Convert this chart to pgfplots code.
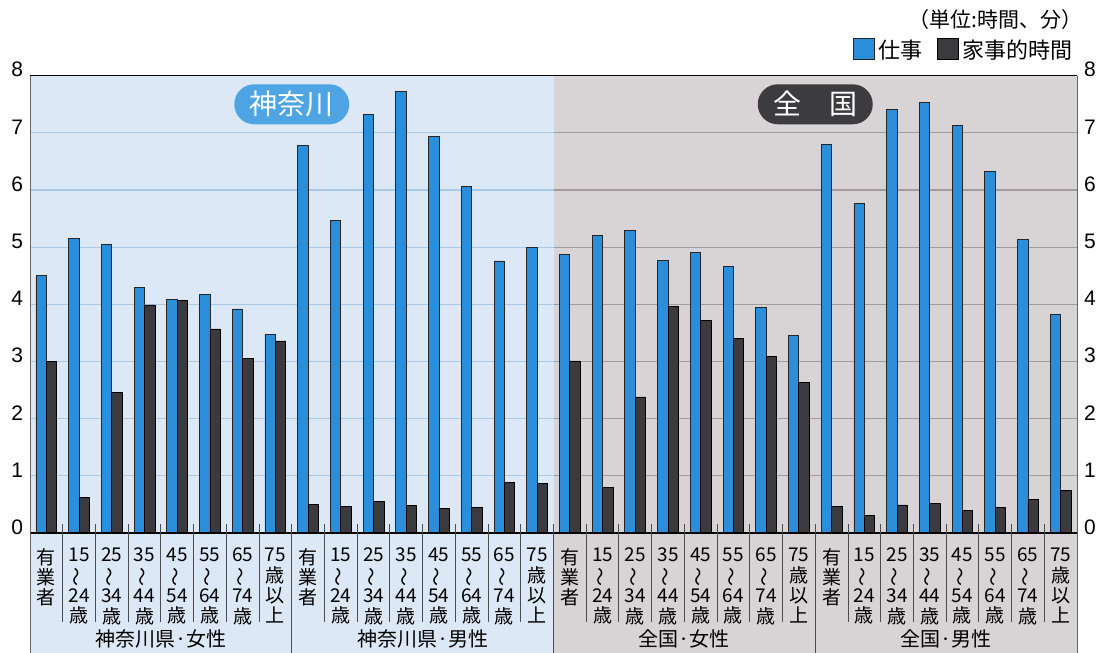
\documentclass[border=0pt]{standalone}
\usepackage{fontspec}
\setmainfont{Liberation Sans}
\newfontfamily\jp{Noto Sans CJK JP}
\usepackage{graphicx}
\usepackage{pgfplots}
\usepackage{pgfplotstable}
\pgfplotsset{compat=1.18}

\definecolor{kbg}{HTML}{DCE8F5}
\definecolor{gbg}{HTML}{D8D3D4}
\definecolor{kgrid}{HTML}{A9C9E6}
\definecolor{ggrid}{HTML}{A39C9D}
\definecolor{bblue}{HTML}{2A8EDB}
\definecolor{bdark}{HTML}{3B3B3F}
\definecolor{pillblue}{HTML}{4FA5E3}
\definecolor{pilldark}{HTML}{3C3C40}

\newcommand{\wave}{\rotatebox[origin=c]{90}{〜}}
\newcommand{\ag}[2]{#1\\\wave\\#2\\歳}

% x: 0-7 Kanagawa female, 8-15 Kanagawa male, 16-23 national female, 24-31 national male
\pgfplotstableread{
x  work  house
0  4.50  3.00
1  5.15  0.62
2  5.04  2.46
3  4.29  3.99
4  4.09  4.07
5  4.17  3.57
6  3.92  3.06
7  3.48  3.36
8  6.78  0.50
9  5.46  0.47
10 7.32  0.55
11 7.72  0.48
12 6.94  0.43
13 6.07  0.45
14 4.76  0.88
15 4.99  0.86
16 4.88  3.01
17 5.20  0.80
18 5.30  2.38
19 4.77  3.97
20 4.91  3.72
21 4.66  3.40
22 3.95  3.09
23 3.45  2.63
24 6.79  0.46
25 5.76  0.31
26 7.41  0.49
27 7.53  0.51
28 7.13  0.40
29 6.32  0.44
30 5.13  0.59
31 3.82  0.74
}\data

\begin{document}
\begin{tikzpicture}
\useasboundingbox (0,0) rectangle (549pt,326.5pt);
\fill[kbg] (15pt,0) rectangle (276.75pt,288.65pt);
\fill[gbg] (276.75pt,0) rectangle (538.5pt,288.65pt);
\begin{axis}[
  at={(15pt,60pt)}, anchor=south west,
  scale only axis, width=523.5pt, height=228.65pt,
  xmin=-0.5, xmax=31.5, ymin=0, ymax=8,
  clip=false,
  axis line style={draw=none},
  major tick length=0pt,
  ytick={0,...,8},
  /pgf/number format/assume math mode=true,
  yticklabel style={font=\fontsize{10.5}{12}\selectfont, yshift=3pt},
  xtick={0,...,31},
  xticklabels={
    {有\\業\\者},{\ag{15}{24}},{\ag{25}{34}},{\ag{35}{44}},{\ag{45}{54}},{\ag{55}{64}},{\ag{65}{74}},{75\\歳\\以\\上},
    {有\\業\\者},{\ag{15}{24}},{\ag{25}{34}},{\ag{35}{44}},{\ag{45}{54}},{\ag{55}{64}},{\ag{65}{74}},{75\\歳\\以\\上},
    {有\\業\\者},{\ag{15}{24}},{\ag{25}{34}},{\ag{35}{44}},{\ag{45}{54}},{\ag{55}{64}},{\ag{65}{74}},{75\\歳\\以\\上},
    {有\\業\\者},{\ag{15}{24}},{\ag{25}{34}},{\ag{35}{44}},{\ag{45}{54}},{\ag{55}{64}},{\ag{65}{74}},{75\\歳\\以\\上}},
  xticklabel style={font=\jp\fontsize{9.5}{10.2}\selectfont, align=center, anchor=north, yshift=-4pt},
  ybar=0pt, bar width=5.2pt,
  legend style={at={(rel axis cs:1,1)}, anchor=south east, yshift=5pt, draw=none, fill=none,
    legend columns=2, font=\jp\fontsize{11}{13}\selectfont, inner sep=0pt,
    /tikz/every even column/.append style={column sep=5pt}},
  legend image code/.code={\draw[#1, line width=0.4pt] (0pt,-4.5pt) rectangle (10.5pt,6pt);},
]
\pgfplotsinvokeforeach{1,...,7}{
  \draw[kgrid, line width=0.6pt] (axis cs:-0.5,#1) -- (axis cs:15.5,#1);
  \draw[ggrid, line width=0.6pt] (axis cs:15.5,#1) -- (axis cs:31.5,#1);
}
\addplot[fill=bblue, draw=black!85, line width=0.4pt] table[x=x, y=work] {\data};
\addplot[fill=bdark, draw=black, line width=0.4pt] table[x=x, y=house] {\data};
\legend{仕事,家事的時間}

\draw[black, line width=0.8pt] (axis cs:-0.5,8) -- (axis cs:31.5,8);
\draw[black, line width=0.8pt] (axis cs:-0.5,0) -- (axis cs:31.5,0);
\draw[black!60, line width=0.5pt] (axis cs:-0.5,8) -- (axis cs:-0.5,-2.3);
\draw[black!60, line width=0.5pt] (axis cs:31.5,8) -- (axis cs:31.5,-2.3);
\pgfplotsinvokeforeach{0.5,1.5,2.5,3.5,4.5,5.5,6.5,8.5,9.5,10.5,11.5,12.5,13.5,14.5,16.5,17.5,18.5,19.5,20.5,21.5,22.5,24.5,25.5,26.5,27.5,28.5,29.5,30.5}{
  \draw[black!70, line width=0.45pt] (axis cs:#1,0.16) -- (axis cs:#1,-1.55);
}
\pgfplotsinvokeforeach{7.5,15.5,23.5}{
  \draw[black!70, line width=0.5pt] (axis cs:#1,0.16) -- (axis cs:#1,-2.3);
}
\node[font=\jp\fontsize{10}{11}\selectfont] at (axis cs:3.5,-1.85) {神奈川県·女性};
\node[font=\jp\fontsize{10}{11}\selectfont] at (axis cs:11.5,-1.85) {神奈川県·男性};
\node[font=\jp\fontsize{10}{11}\selectfont] at (axis cs:19.5,-1.85) {全国·女性};
\node[font=\jp\fontsize{10}{11}\selectfont] at (axis cs:27.5,-1.85) {全国·男性};

\node[fill=pillblue, rounded corners=10pt, minimum width=57.5pt, minimum height=20pt, inner sep=0pt,
  text=white, font=\jp\fontsize{14}{15}\selectfont] at (axis cs:7.5,7.5) {神奈川};
\node[fill=pilldark, rounded corners=10pt, minimum width=57.5pt, minimum height=20pt, inner sep=0pt,
  text=white, font=\jp\fontsize{14}{15}\selectfont] at (axis cs:23.5,7.5) {全\hspace{1em}国};

\node[anchor=east, inner sep=0pt, xshift=3pt, yshift=28pt, font=\jp\fontsize{10.5}{12}\selectfont]
  at (rel axis cs:1,1) {（単位:時間、分）};
\end{axis}
\begin{axis}[
  at={(15pt,60pt)}, anchor=south west,
  scale only axis, width=523.5pt, height=228.65pt,
  xmin=-0.5, xmax=31.5, ymin=0, ymax=8,
  axis line style={draw=none},
  major tick length=0pt,
  ytick={0,...,8}, xtick=\empty,
  yticklabel pos=right,
  /pgf/number format/assume math mode=true,
  yticklabel style={font=\fontsize{10.5}{12}\selectfont, yshift=3pt},
]
\end{axis}
\end{tikzpicture}
\end{document}
